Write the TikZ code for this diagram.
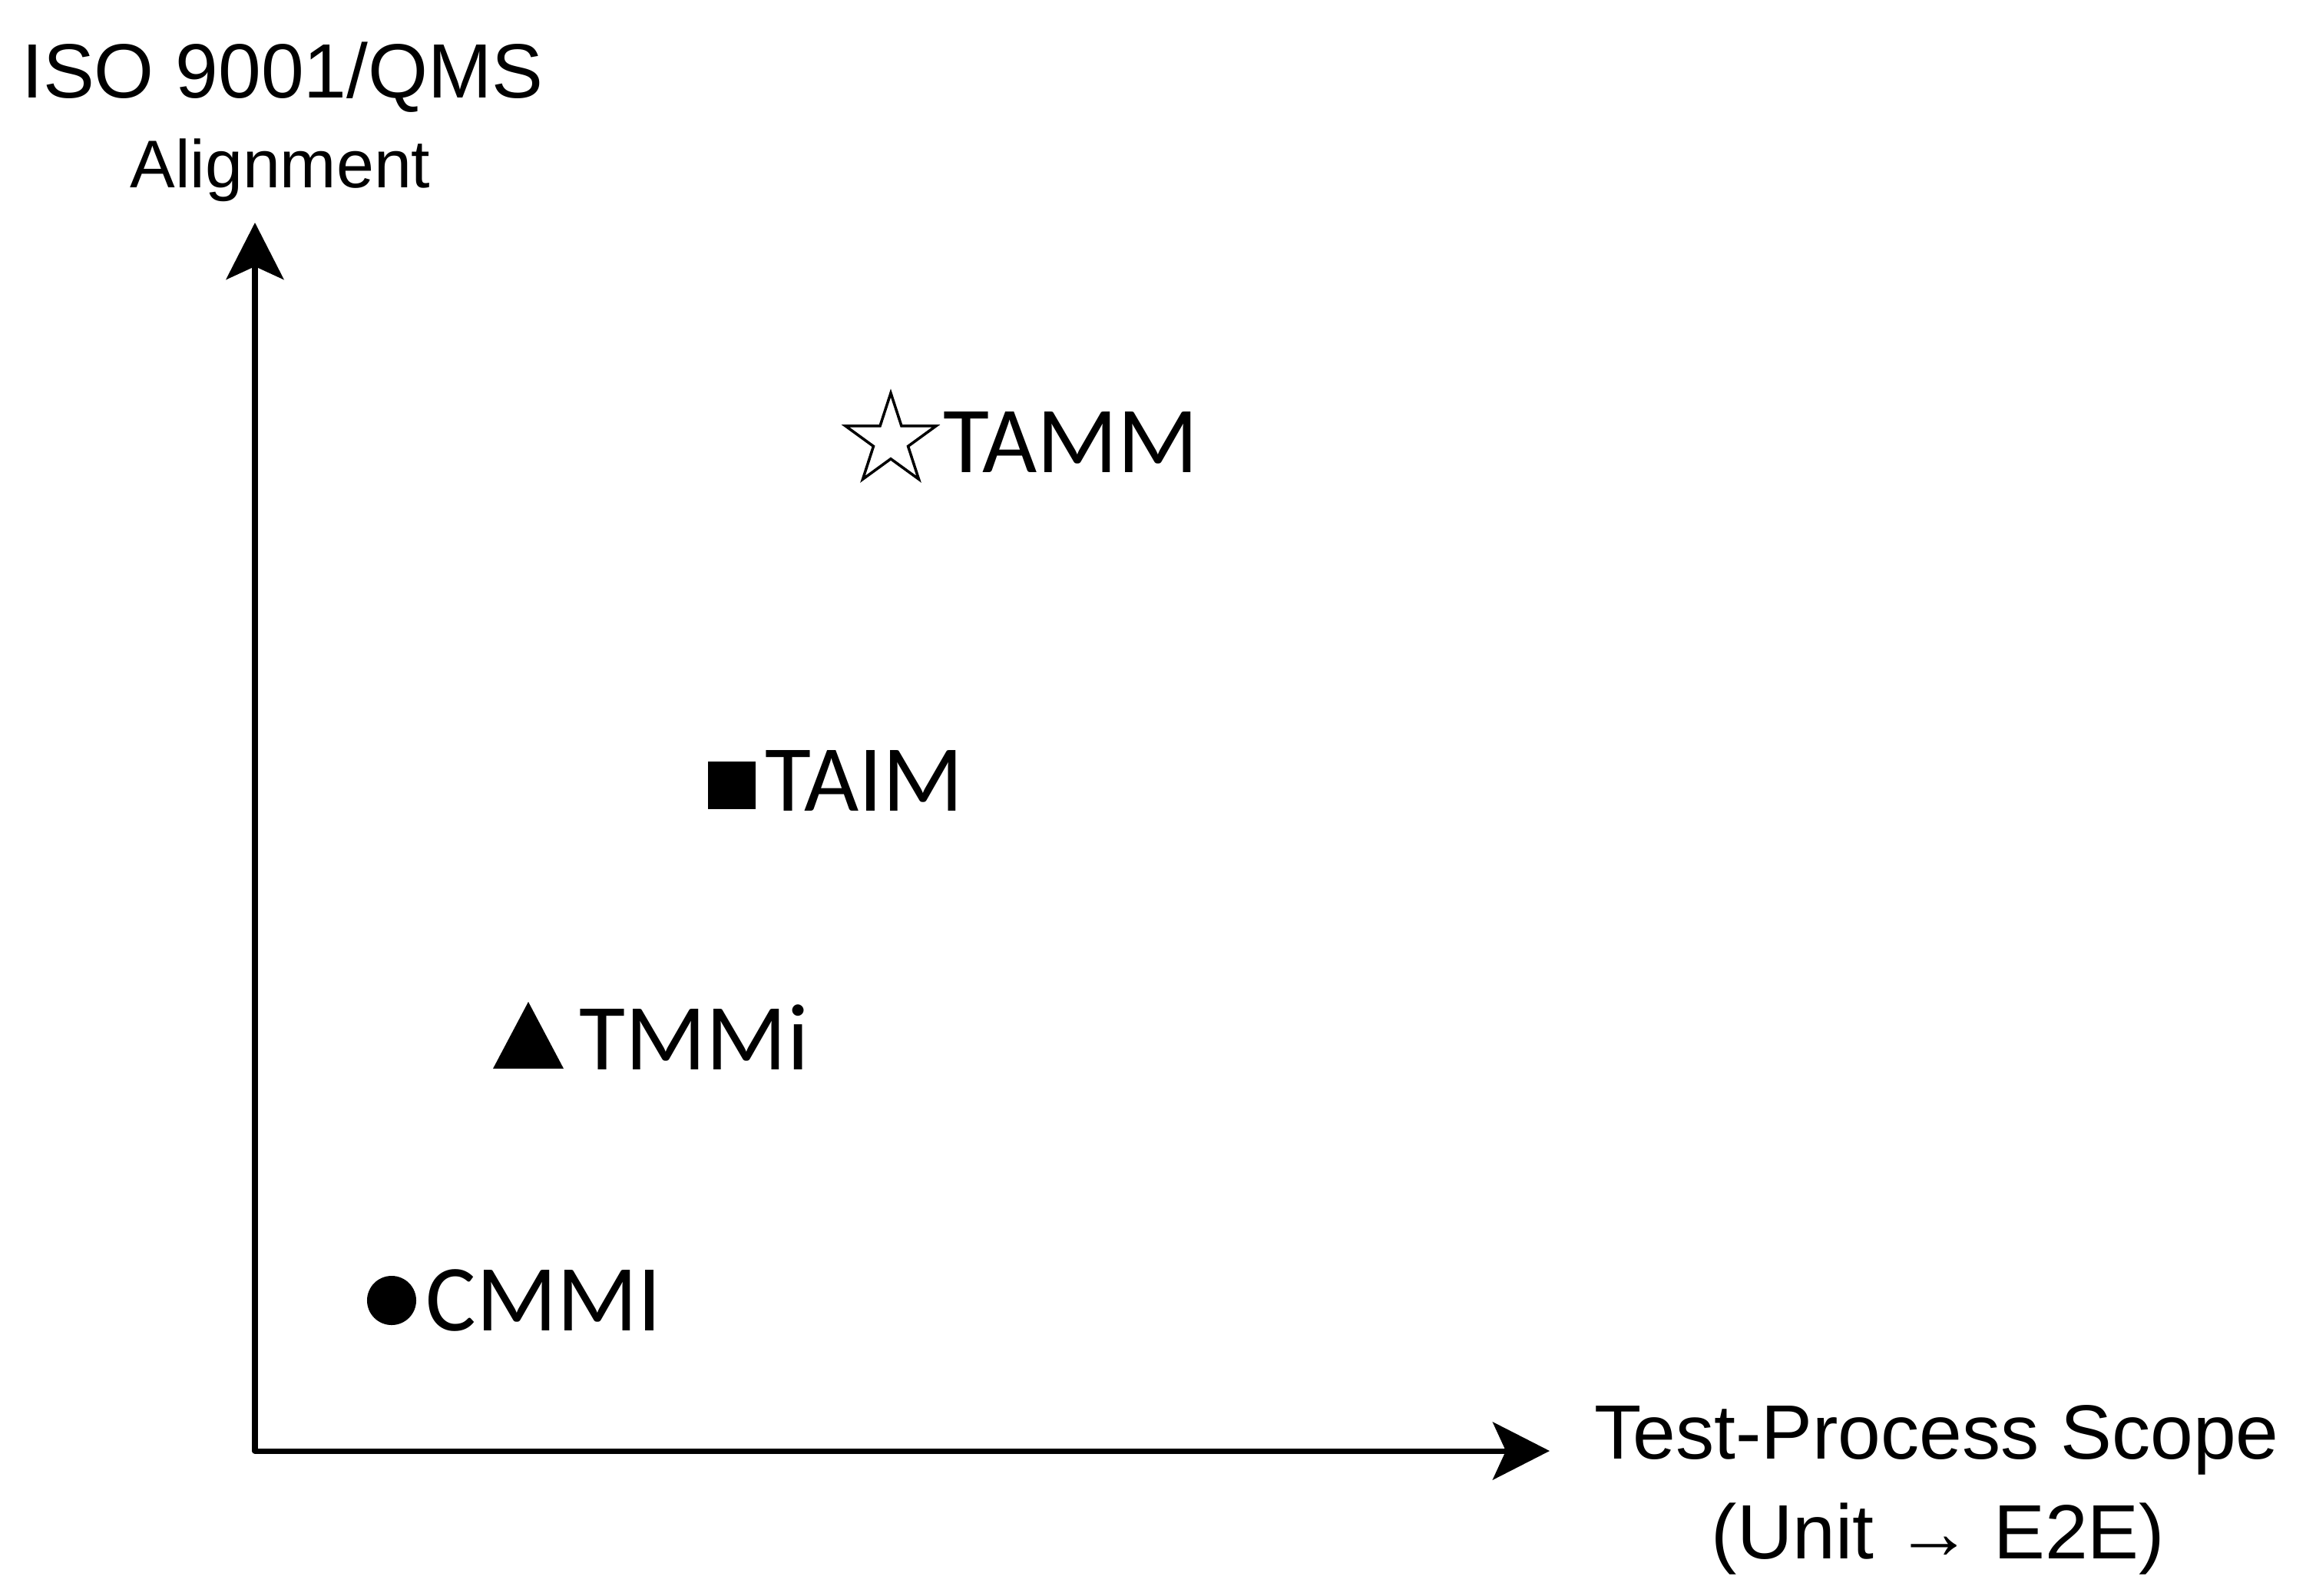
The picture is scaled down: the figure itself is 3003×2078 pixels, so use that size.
\documentclass[tikz,border=0pt]{standalone}
\usepackage{fontspec}
\setmainfont{Liberation Sans}
\newfontfamily\calibri{Carlito}
\usepackage{tikz}
\usetikzlibrary{arrows.meta,positioning,shapes.geometric}

\begin{document}
\begin{tikzpicture}[x=0.01cm, y=-0.01cm,
	axis/.style={line width=2pt, line join=round,
		{Stealth[length=0.74cm, width=0.75cm, inset=0.17cm]}-{Stealth[length=0.74cm, width=0.75cm, inset=0.17cm]}},
	model/.style={font=\calibri\fontsize{35}{42}\selectfont, inner sep=0pt, anchor=base west}]

	\useasboundingbox (0, 0) rectangle (3003, 2078);

	%Achsen
	\coordinate (O) at (332, 1890);
	\coordinate (ytip) at (332, 290);
	\coordinate (xtip) at (2018, 1890);
	\draw[axis] (ytip) -- (O) -- (xtip);

	\node[inner sep=0pt, anchor=base, font=\fontsize{28.5}{34}\selectfont] (ytitle) at (368, 127) {ISO 9001/QMS};
	\node[inner sep=0pt, anchor=base, font=\fontsize{25}{30}\selectfont] (ytitle2) at (365, 244) {Alignment};
	\node[inner sep=0pt, anchor=base, font=\fontsize{28.5}{34}\selectfont] (xtitle) at (2522, 1900) {Test-Process Scope};
	\node[inner sep=0pt, anchor=base, font=\fontsize{28.5}{34}\selectfont] (xtitle2) at (2524, 2030) {(Unit → E2E)};

	%Modelle
	\node[star, star points=5, star point ratio=2.618, draw, line width=1pt, inner sep=0pt, minimum size=1.24cm] (tammmark) at (1160, 574) {};
	\node[model] (tamm) at (1228, 615) {TAMM};

	\node[rectangle, fill, inner sep=0pt, minimum size=0.62cm] (taimmark) at (953, 1023) {};
	\node[model] (taim) at (996, 1056) {TAIM};

	\coordinate (tmmimark) at (688, 1392);
	\fill ([shift={(-46, 0)}]tmmimark) -- ([shift={(46, 0)}]tmmimark) -- ([shift={(0, -87)}]tmmimark) -- cycle;
	\node[model] (tmmi) at (754, 1393) {TMMi};

	\node[circle, fill, inner sep=0pt, minimum size=0.64cm] (cmmimark) at (510, 1694) {};
	\node[model] (cmmi) at (554, 1733) {CMMI};

\end{tikzpicture}
\end{document}
